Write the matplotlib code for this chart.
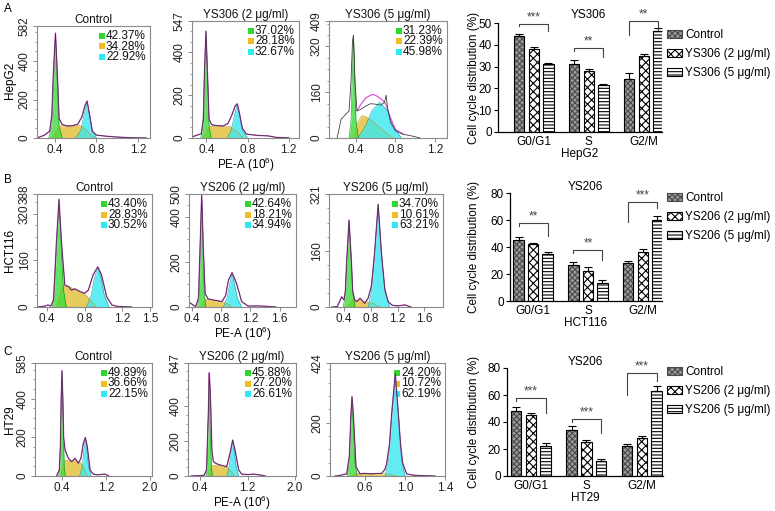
import matplotlib
matplotlib.use('Agg')
import matplotlib.pyplot as plt
from matplotlib.patches import Patch, Rectangle
from matplotlib.ticker import MultipleLocator
import numpy as np

plt.rcParams['font.family'] = ['Liberation Sans', 'DejaVu Sans']
plt.rcParams['mathtext.fontset'] = 'custom'
plt.rcParams['mathtext.rm'] = 'Liberation Sans'
plt.rcParams['hatch.linewidth'] = 0.8

FS = 8.5

# ---------------- histogram data (PE-A in 10^6, counts) ----------------
A1_x = [0.24, 0.30, 0.35, 0.37, 0.385, 0.405, 0.425, 0.44, 0.47, 0.52, 0.57, 0.62, 0.66, 0.69, 0.71, 0.73, 0.76, 0.80, 0.90, 1.00, 1.10, 1.28]
A1_y = [3, 15, 36, 120, 340, 545, 310, 100, 70, 62, 64, 72, 110, 170, 192, 130, 35, 15, 9, 5, 2, 0]
A1_g1x = [0.34, 0.37, 0.39, 0.405, 0.42, 0.44, 0.47]
A1_g1y = [0, 60, 310, 538, 310, 60, 0]
A1_sx = [0.38, 0.44, 0.50, 0.60, 0.66, 0.72, 0.78]
A1_sy = [0, 62, 64, 66, 62, 30, 0]
A1_g2x = [0.60, 0.65, 0.68, 0.71, 0.735, 0.76, 0.80]
A1_g2y = [0, 40, 120, 187, 120, 40, 0]

A2_x = [0.26, 0.30, 0.35, 0.37, 0.38, 0.395, 0.41, 0.425, 0.45, 0.50, 0.56, 0.61, 0.65, 0.68, 0.70, 0.72, 0.75, 0.79, 0.90, 1.00, 1.08, 1.20]
A2_y = [5, 12, 20, 90, 300, 500, 300, 90, 62, 58, 56, 68, 110, 150, 160, 120, 45, 18, 12, 10, 3, 1]
A2_g1x = [0.345, 0.365, 0.38, 0.395, 0.41, 0.425, 0.445]
A2_g1y = [0, 60, 290, 495, 290, 60, 0]
A2_sx = [0.37, 0.43, 0.50, 0.58, 0.64, 0.70, 0.76]
A2_sy = [0, 55, 55, 54, 52, 28, 0]
A2_g2x = [0.60, 0.64, 0.67, 0.698, 0.725, 0.75, 0.80]
A2_g2y = [0, 35, 100, 155, 100, 35, 0]

A3_x = [0.21, 0.25, 0.30, 0.33, 0.35, 0.365, 0.375, 0.39, 0.41, 0.45, 0.50, 0.55, 0.60, 0.65, 0.69, 0.705, 0.72, 0.75, 0.80, 0.88, 0.98, 1.05]
A3_y = [1, 66, 84, 95, 200, 340, 360, 200, 95, 100, 112, 120, 118, 115, 125, 150, 105, 55, 25, 13, 6, 0]
A3_fitx = [0.41, 0.45, 0.50, 0.55, 0.58, 0.62, 0.66, 0.70, 0.75, 0.80, 0.88]
A3_fity = [95, 118, 140, 150, 152, 145, 135, 120, 70, 30, 13]
A3_g1x = [0.33, 0.35, 0.365, 0.375, 0.385, 0.40, 0.425]
A3_g1y = [0, 60, 250, 355, 250, 60, 0]
A3_sx = [0.38, 0.42, 0.46, 0.50, 0.58, 0.68, 0.78]
A3_sy = [0, 55, 78, 75, 55, 25, 0]
A3_g2x = [0.42, 0.50, 0.56, 0.64, 0.72, 0.78, 0.86]
A3_g2y = [0, 45, 95, 125, 95, 40, 0]

B1_x = [0.30, 0.38, 0.41, 0.44, 0.47, 0.50, 0.528, 0.555, 0.59, 0.63, 0.66, 0.70, 0.75, 0.80, 0.84, 0.89, 0.94, 0.98, 1.035, 1.09, 1.15, 1.30]
B1_y = [0, 3, 7, 3, 24, 219, 370, 219, 75, 70, 58, 62, 53, 47, 58, 110, 138, 110, 35, 7, 2, 0]
B1_g1x = [0.455, 0.48, 0.505, 0.528, 0.55, 0.575, 0.605]
B1_g1y = [0, 60, 220, 360, 220, 60, 0]
B1_sx = [0.50, 0.56, 0.62, 0.72, 0.80, 0.86, 0.92]
B1_sy = [0, 70, 72, 58, 45, 25, 0]
B1_g2x = [0.82, 0.87, 0.905, 0.94, 0.975, 1.01, 1.06]
B1_g2y = [0, 40, 100, 135, 100, 40, 0]

B2_x = [0.34, 0.37, 0.41, 0.45, 0.49, 0.51, 0.533, 0.555, 0.58, 0.62, 0.69, 0.75, 0.81, 0.86, 0.90, 0.95, 1.01, 1.08, 1.17, 1.30, 1.42, 1.55]
B2_y = [8, 19, 10, 2, 40, 260, 495, 260, 60, 36, 31, 28, 24, 50, 119, 152, 105, 24, 4, 5, 3, 0]
B2_g1x = [0.475, 0.50, 0.517, 0.533, 0.55, 0.567, 0.59]
B2_g1y = [0, 60, 280, 480, 280, 60, 0]
B2_sx = [0.52, 0.58, 0.66, 0.75, 0.83, 0.90, 0.96]
B2_sy = [0, 35, 32, 28, 22, 12, 0]
B2_g2x = [0.83, 0.88, 0.92, 0.95, 0.98, 1.02, 1.08]
B2_g2y = [0, 40, 105, 148, 105, 40, 0]

B3_x = [0.22, 0.30, 0.366, 0.40, 0.42, 0.44, 0.475, 0.51, 0.53, 0.56, 0.59, 0.64, 0.71, 0.76, 0.81, 0.855, 0.91, 0.96, 1.01, 1.06, 1.12, 1.20, 1.31, 1.40]
B3_y = [0, 1, 29, 20, 45, 130, 247, 130, 45, 20, 15, 25, 10, 25, 60, 150, 292, 150, 50, 15, 5, 3, 6, 0]
B3_g1x = [0.39, 0.42, 0.44, 0.475, 0.51, 0.53, 0.565]
B3_g1y = [0, 40, 125, 245, 125, 40, 0]
B3_sx = [0.46, 0.52, 0.60, 0.70, 0.80, 0.88, 0.94]
B3_sy = [0, 20, 20, 16, 12, 6, 0]
B3_g2x = [0.76, 0.81, 0.855, 0.91, 0.96, 1.01, 1.08]
B3_g2y = [0, 45, 145, 290, 145, 45, 0]

C1_x = [0.30, 0.35, 0.37, 0.385, 0.40, 0.415, 0.43, 0.455, 0.515, 0.576, 0.636, 0.696, 0.745, 0.787, 0.824, 0.86, 0.91, 0.97, 1.05, 1.18, 1.25]
C1_y = [0, 31, 150, 400, 545, 400, 200, 135, 92, 74, 92, 66, 92, 169, 200, 152, 31, 10, 6, 10, 0]
C1_g1x = [0.34, 0.36, 0.38, 0.40, 0.42, 0.44, 0.46]
C1_g1y = [0, 50, 300, 540, 300, 50, 0]
C1_sx = [0.38, 0.44, 0.52, 0.62, 0.72, 0.80, 0.86]
C1_sy = [0, 80, 82, 80, 75, 40, 0]
C1_g2x = [0.72, 0.77, 0.80, 0.824, 0.85, 0.88, 0.93]
C1_g2y = [0, 50, 140, 195, 140, 50, 0]

C2_x = [0.25, 0.40, 0.47, 0.51, 0.54, 0.555, 0.57, 0.585, 0.60, 0.625, 0.68, 0.74, 0.80, 0.85, 0.905, 0.95, 0.99, 1.05, 1.10, 1.20, 1.30, 1.41, 1.50]
C2_y = [0, 2, 5, 34, 359, 591, 500, 359, 150, 82, 70, 63, 58, 53, 130, 206, 149, 36, 11, 8, 11, 6, 0]
C2_g1x = [0.50, 0.52, 0.54, 0.555, 0.57, 0.59, 0.61]
C2_g1y = [0, 60, 340, 585, 340, 60, 0]
C2_sx = [0.54, 0.60, 0.68, 0.78, 0.86, 0.93, 0.98]
C2_sy = [0, 60, 62, 58, 52, 25, 0]
C2_g2x = [0.85, 0.89, 0.925, 0.95, 0.975, 1.01, 1.05]
C2_g2y = [0, 50, 140, 200, 140, 50, 0]

C3_x = [0.30, 0.333, 0.417, 0.443, 0.46, 0.47, 0.483, 0.51, 0.55, 0.60, 0.65, 0.70, 0.767, 0.80, 0.817, 0.845, 0.867, 0.903, 0.933, 0.955, 0.977, 1.017, 1.083, 1.20, 1.30]
C3_y = [0, 1, 8, 72, 235, 298, 235, 35, 8, 10, 8, 9, 10, 25, 48, 120, 235, 385, 235, 120, 48, 8, 3, 1, 0]
C3_g1x = [0.425, 0.44, 0.455, 0.47, 0.485, 0.50, 0.52]
C3_g1y = [0, 50, 170, 295, 170, 50, 0]
C3_sx = [0.47, 0.52, 0.60, 0.70, 0.80, 0.86, 0.92]
C3_sy = [0, 10, 10, 9, 8, 5, 0]
C3_g2x = [0.80, 0.835, 0.87, 0.903, 0.935, 0.965, 1.00]
C3_g2y = [0, 60, 230, 380, 230, 60, 0]

# percentages (G0/G1, S, G2/M)
A1_pct = ['42.37%', '34.28%', '22.92%']
A2_pct = ['37.02%', '28.18%', '32.67%']
A3_pct = ['31.23%', '22.39%', '45.98%']
B1_pct = ['43.40%', '28.83%', '30.52%']
B2_pct = ['42.64%', '18.21%', '34.94%']
B3_pct = ['34.70%', '10.61%', '63.21%']
C1_pct = ['49.89%', '36.66%', '22.15%']
C2_pct = ['45.88%', '27.20%', '26.61%']
C3_pct = ['24.20%', '10.72%', '62.19%']

# axis ticks
A1_yt = [0, 200, 400, 582]; A2_yt = [0, 200, 400, 547]; A3_yt = [0, 160, 320, 409]
B1_yt = [0, 160, 320, 388]; B2_yt = [0, 200, 400, 500]; B3_yt = [0, 160, 321]
C1_yt = [0, 200, 400, 585]; C2_yt = [0, 200, 400, 647]; C3_yt = [0, 200, 424]
A_xt = [0.4, 0.8, 1.2]
B1_xt = [0.4, 0.8, 1.2, 1.5]; B_xt = [0.4, 0.8, 1.2, 1.6]
C_xt = [0.4, 1.2, 2.0]; C3_xt = [0.6, 1.0, 1.4]

# ---------------- bar data (Cell cycle distribution %) ----------------
phases = ['G0/G1', 'S', 'G2/M']
A_ctrl = [44.0, 31.0, 24.5]; A_ctrl_e = [1.0, 2.0, 2.5]
A_low = [38.3, 28.2, 34.8]; A_low_e = [0.7, 0.5, 1.2]
A_high = [31.2, 21.6, 46.2]; A_high_e = [0.3, 0.3, 1.3]
B_ctrl = [45.5, 27.0, 28.0]; B_ctrl_e = [2.0, 2.0, 2.0]
B_low = [42.5, 22.0, 36.0]; B_low_e = [0.8, 3.0, 2.5]
B_high = [35.0, 13.0, 60.0]; B_high_e = [1.2, 2.5, 3.0]
C_ctrl = [48.5, 34.0, 22.0]; C_ctrl_e = [2.5, 3.0, 1.5]
C_low = [45.5, 25.5, 28.5]; C_low_e = [1.0, 1.5, 1.5]
C_high = [22.5, 11.0, 63.0]; C_high_e = [2.0, 1.5, 3.5]
# significance brackets: (top, left end, right end, label)
A_sig = [(49.5, 48.6, 46.5, '***'), (38.4, 37.3, 34.5, '**'), (51.0, 44.5, 47.0, '**')]
B_sig = [(57.8, 55.5, 48.0, '**'), (37.8, 35.5, 30.4, '**'), (73.3, 58.5, 68.9, '***')]
C_sig = [(57.8, 55.5, 46.7, '***'), (42.2, 40.0, 31.9, '***'), (76.3, 60.0, 70.4, '***')]

W, H = 775, 511
fig = plt.figure(figsize=(W / 100, H / 100), dpi=100)


def px_axes(l, t, r, b):
    return fig.add_axes([l / W, 1 - b / H, (r - l) / W, (b - t) / H])


GRN, YEL, CYN = '#3ade3a', '#e2c440', '#3ae8f0'
SQ = ['#2ed82e', '#f0be1e', '#30eaf2']


def draw_hist(box, xlim, xt, yt, ox, oy, g1x, g1y, sx, sy, g2x, g2y, pct, title,
              fitx=None, fity=None):
    l, t, r, b = box
    ax = px_axes(l, t, r, b)
    ax.fill_between(sx, sy, color=YEL, alpha=0.85, lw=0)
    ax.plot(sx, sy, color='#b89a20', lw=0.4)
    ax.fill_between(g1x, g1y, color=GRN, alpha=0.8, lw=0)
    ax.plot(g1x, g1y, color='#1c8a1c', lw=0.4)
    ax.fill_between(g2x, g2y, color=CYN, alpha=0.8, lw=0)
    ax.plot(g2x, g2y, color='#1a9aa0', lw=0.4)
    if fitx is None:
        ax.plot(ox, oy, color='#e050e0', lw=1.0, alpha=0.9)
    else:
        ax.plot(fitx, fity, color='#e050e0', lw=0.9)
    ax.plot(ox, oy, color='#333333', lw=0.55)
    ax.set_xlim(*xlim)
    ax.set_ylim(0, yt[-1])
    ax.set_xticks(xt)
    ax.set_xticklabels(['%.1f' % v for v in xt])
    ax.set_yticks(yt)
    ax.set_yticklabels([str(v) for v in yt], rotation=90, va='center')
    ax.yaxis.set_minor_locator(MultipleLocator(yt[1] / 4))
    ax.tick_params(axis='both', labelsize=FS, length=3, width=0.6, color='#777',
                   labelcolor='#222', pad=1.5)
    ax.tick_params(axis='y', which='minor', length=1.8, width=0.5, color='#777')
    for s in ax.spines.values():
        s.set_color('#8a8a8a')
        s.set_linewidth(0.8)
    ax.set_title(title, fontsize=FS, pad=2, color='#111')
    wpx, hpx = r - l, b - t
    for i, (txt, c) in enumerate(zip(pct, SQ)):
        yc = 1 - (10 + 10.5 * i) / hpx
        xt0 = 1 - 44 / wpx
        ax.add_patch(Rectangle((xt0 - 7 / wpx, yc - 3 / hpx), 6 / wpx, 6 / hpx,
                               transform=ax.transAxes, color=c, clip_on=False, lw=0))
        ax.text(xt0, yc, txt, transform=ax.transAxes, fontsize=FS, va='center',
                ha='left', color='#111')
    return ax


hists = [
    ((37, 26, 150, 138), (0.227, 1.316), A_xt, A1_yt, A1_x, A1_y, A1_g1x, A1_g1y, A1_sx, A1_sy, A1_g2x, A1_g2y, A1_pct, 'Control', None, None),
    ((192, 21, 299, 138), (0.259, 1.302), A_xt, A2_yt, A2_x, A2_y, A2_g1x, A2_g1y, A2_sx, A2_sy, A2_g2x, A2_g2y, A2_pct, 'YS306 (2 \u03bcg/ml)', None, None),
    ((329, 21, 447, 138), (0.127, 1.322), A_xt, A3_yt, A3_x, A3_y, A3_g1x, A3_g1y, A3_sx, A3_sy, A3_g2x, A3_g2y, A3_pct, 'YS306 (5 \u03bcg/ml)', A3_fitx, A3_fity),
    ((37, 194, 152, 307), (0.294, 1.517), B1_xt, B1_yt, B1_x, B1_y, B1_g1x, B1_g1y, B1_sx, B1_sy, B1_g2x, B1_g2y, B1_pct, 'Control', None, None),
    ((189, 194, 296, 307), (0.359, 1.825), B_xt, B2_yt, B2_x, B2_y, B2_g1x, B2_g1y, B2_sx, B2_sy, B2_g2x, B2_g2y, B2_pct, 'YS206 (2 \u03bcg/ml)', None, None),
    ((329, 194, 443, 307), (0.176, 1.878), B_xt, B3_yt, B3_x, B3_y, B3_g1x, B3_g1y, B3_sx, B3_sy, B3_g2x, B3_g2y, B3_pct, 'YS206 (5 \u03bcg/ml)', None, None),
    ((35, 363, 152, 476), (-0.091, 2.036), C_xt, C1_yt, C1_x, C1_y, C1_g1x, C1_g1y, C1_sx, C1_sy, C1_g2x, C1_g2y, C1_pct, 'Control', None, None),
    ((188, 363, 296, 476), (0.198, 2.016), C_xt, C2_yt, C2_x, C2_y, C2_g1x, C2_g1y, C2_sx, C2_sy, C2_g2x, C2_g2y, C2_pct, 'YS206 (2 \u03bcg/ml)', None, None),
    ((330, 363, 445, 476), (0.25, 1.40), C3_xt, C3_yt, C3_x, C3_y, C3_g1x, C3_g1y, C3_sx, C3_sy, C3_g2x, C3_g2y, C3_pct, 'YS206 (5 \u03bcg/ml)', None, None),
]
hax = [draw_hist(*h) for h in hists]
for i in (1, 4, 7):
    hax[i].set_xlabel('PE-A (10$^{6}$)', fontsize=FS, labelpad=0)

# cell line labels and panel letters
for y, name in ((80, 'HepG2'), (250, 'HCT116'), (420, 'HT29')):
    fig.text(10 / W, 1 - y / H, name, rotation=90, fontsize=FS, ha='center', va='center')
for y, letter in ((9, 'A'), (180, 'B'), (352, 'C')):
    fig.text(8 / W, 1 - y / H, letter, fontsize=FS, ha='center', va='center')

# ---------------- bar charts ----------------
STYLES = [dict(fc='#9a9a9a', hc='#4a4a4a', hatch='xxxxxx'),
          dict(fc='white', hc='black', hatch='xxxx'),
          dict(fc='white', hc='black', hatch='-----')]


def draw_bars(box, xlim, ylim, ystep, series, errs, drug, cell, sig, leg_xy, title_xy):
    l, t, r, b = box
    ax = px_axes(l, t, r, b)
    x = np.arange(len(phases))
    offs = [-0.265, 0.0, 0.265]
    w = 0.19
    for k in range(3):
        st = STYLES[k]
        ax.bar(x + offs[k], series[k], w, color=st['fc'], edgecolor=st['hc'],
               hatch=st['hatch'], lw=0, zorder=2)
        ax.bar(x + offs[k], series[k], w, fill=False, edgecolor='black', lw=0.8, zorder=3)
        ax.errorbar(x + offs[k], series[k], yerr=[np.zeros(3), errs[k]], fmt='none',
                    ecolor='black', elinewidth=0.8, capsize=3, capthick=0.8, zorder=4)
    for g, (top, le, re, lab) in enumerate(sig):
        xl, xr = g + offs[0], g + offs[2]
        ax.plot([xl, xl, xr, xr], [le, top, top, re], color='#444', lw=0.8,
                clip_on=False, zorder=5)
        ax.text((xl + xr) / 2, top + (ylim[1] * 0.005), lab, ha='center', va='bottom',
                fontsize=FS, color='#444', clip_on=False)
    ax.set_xlim(*xlim)
    ax.set_ylim(*ylim)
    ax.set_yticks(np.arange(0, ylim[1] + 0.1, ystep))
    ax.set_xticks(x)
    ax.set_xticklabels(phases)
    ax.tick_params(labelsize=FS, length=3, width=0.8, pad=1.5)
    ax.tick_params(axis='x', length=0, pad=3)
    for s in ('top', 'right'):
        ax.spines[s].set_visible(False)
    for s in ('left', 'bottom'):
        ax.spines[s].set_linewidth(0.9)
    ax.set_xlabel(cell, fontsize=FS, labelpad=0)
    fig.text(title_xy[0] / W, 1 - title_xy[1] / H, drug, fontsize=FS, ha='center', va='center')
    fig.text(474 / W, 1 - ((t + b) / 2) / H, 'Cell cycle distribution (%)', rotation=90,
             fontsize=FS, ha='center', va='center')
    handles = [Patch(facecolor=st['fc'], edgecolor=st['hc'], hatch=st['hatch'], lw=0.8)
               for st in STYLES]
    labels = ['Control', drug + ' (2 \u03bcg/ml)', drug + ' (5 \u03bcg/ml)']
    ax.legend(handles, labels, loc='upper left', bbox_to_anchor=(leg_xy[0] / W, 1 - leg_xy[1] / H),
              bbox_transform=fig.transFigure, frameon=False, fontsize=FS,
              handlelength=1.25, handleheight=0.7, labelspacing=0.6, handletextpad=0.3,
              borderpad=0, borderaxespad=0)
    return ax


draw_bars((498, 23, 662, 132), (-0.65, 2.33), (0, 50), 10,
          [A_ctrl, A_low, A_high], [A_ctrl_e, A_low_e, A_high_e], 'YS306', 'HepG2', A_sig,
          (667, 29), (588, 15))
draw_bars((510, 193, 662, 301), (-0.42, 2.35), (0, 80), 20,
          [B_ctrl, B_low, B_high], [B_ctrl_e, B_low_e, B_high_e], 'YS206', 'HCT116', B_sig,
          (667, 192), (585, 187))
draw_bars((507, 368, 663, 476), (-0.43, 2.38), (0, 80), 20,
          [C_ctrl, C_low, C_high], [C_ctrl_e, C_low_e, C_high_e], 'YS206', 'HT29', C_sig,
          (667, 366), (585, 362))

fig.savefig('out.png', dpi=100)
